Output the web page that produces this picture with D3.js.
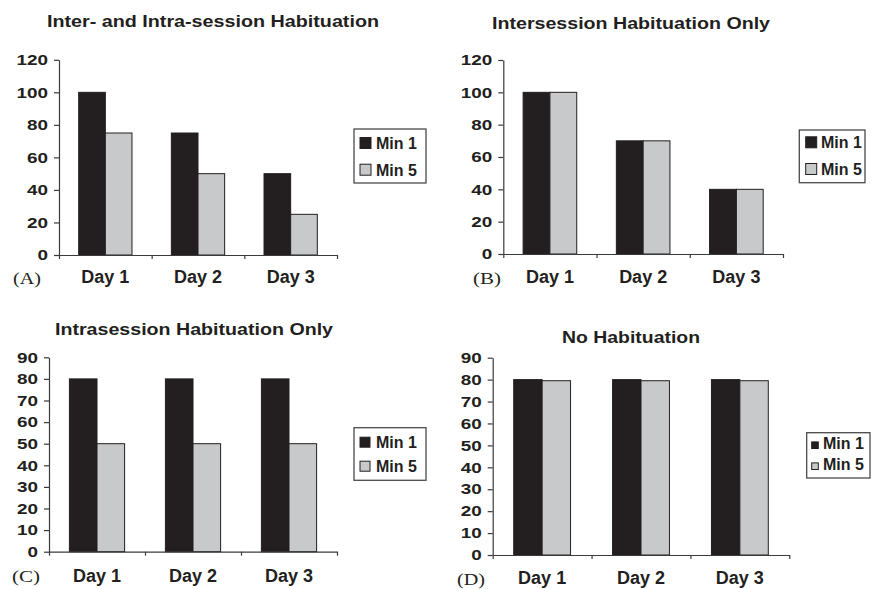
<!DOCTYPE html>
<html>
<head>
<meta charset="utf-8">
<script src="https://cdn.jsdelivr.net/npm/d3@7"></script>
<style>
  html, body { margin: 0; padding: 0; background: #ffffff; }
  svg { display: block; }
</style>
</head>
<body>
<svg id="chart" width="871" height="589"></svg>
<script>
// ---- data ----
const days = ["Day 1", "Day 2", "Day 3"];
const seriesNames = ["Min 1", "Min 5"];
const panelTitles = [
  "Inter- and Intra-session Habituation",
  "Intersession Habituation Only",
  "Intrasession Habituation Only",
  "No Habituation"
];
const panelLetters = ["(A)", "(B)", "(C)", "(D)"];

const min1A = [100, 75, 50];
const min5A = [75, 50, 25];
const min1B = [100, 70, 40];
const min5B = [100, 70, 40];
const min1C = [80, 80, 80];
const min5C = [50, 50, 50];
const min1D = [80, 80, 80];
const min5D = [79.5, 79.5, 79.5];

const yTicksTop = [0, 20, 40, 60, 80, 100, 120];
const yTicksBottom = [0, 10, 20, 30, 40, 50, 60, 70, 80, 90];

// ---- styling ----
const INK = "#231f20";
const GREY = "#c8c9cb";
const seriesFill = [INK, GREY];
const sans = "'Liberation Sans', Arial, Helvetica, sans-serif";
const serif = "'Liberation Serif', 'Times New Roman', serif";

// per-panel layout (pixel frame of each small chart)
const panels = [
  { min1: min1A, min5: min5A, ticks: yTicksTop, yMax: 120,
    left: 59, right: 337, top: 59.8, bottom: 255,
    title: { cx: 213, y: 27.3, len: 332 },
    legend: { x: 354, y: 129, w: 72, h: 54, sw: 11, sx: 360, tx: 376, rows: [149, 175.7] },
    letter: { x: 13, y: 284 }, dayY: 283.3 },
  { min1: min1B, min5: min5B, ticks: yTicksTop, yMax: 120,
    left: 503.3, right: 783, top: 60, bottom: 254,
    title: { cx: 631, y: 29, len: 278 },
    legend: { x: 799.3, y: 130, w: 65.7, h: 52.7, sw: 11, sx: 805.7, tx: 821, rows: [148.3, 175] },
    letter: { x: 473, y: 283.5 }, dayY: 282.7 },
  { min1: min1C, min5: min5C, ticks: yTicksBottom, yMax: 90,
    left: 49, right: 337, top: 357.3, bottom: 551.7,
    title: { cx: 194, y: 335, len: 278 },
    legend: { x: 354, y: 427.7, w: 72, h: 52.6, sw: 10, sx: 360, tx: 376, rows: [447.7, 471.7] },
    letter: { x: 12, y: 582 }, dayY: 582.3 },
  { min1: min1D, min5: min5D, ticks: yTicksBottom, yMax: 90,
    left: 492.7, right: 789.3, top: 357.7, bottom: 555,
    title: { cx: 631, y: 343.3, len: 138 },
    legend: { x: 806.7, y: 432.7, w: 63.3, h: 45.3, sw: 6.6, sx: 811.7, tx: 823, rows: [449, 470] },
    letter: { x: 457, y: 584.5 }, dayY: 584.3 }
];

const svg = d3.select("#chart");

panels.forEach((p, i) => {
  const g = svg.append("g");
  const values = [p.min1, p.min5];
  const rows = days.map((d, k) => ({ day: d, vals: values.map((s, j) => ({ name: seriesNames[j], v: s[k], j })) }));

  const y = d3.scaleLinear().domain([0, p.yMax]).range([p.bottom, p.top]);
  const xGroup = d3.scaleBand().domain(days).range([p.left, p.right])
    .paddingInner(0.425).paddingOuter(0.2125);
  const xSeries = d3.scaleBand().domain(seriesNames).range([0, xGroup.bandwidth()]);
  const xEdge = d3.scaleLinear().domain([0, days.length]).range([p.left, p.right]);

  // bars
  const groups = g.selectAll("g.day").data(rows).join("g")
    .attr("class", "day")
    .attr("transform", d => `translate(${xGroup(d.day)},0)`);
  groups.selectAll("rect").data(d => d.vals).join("rect")
    .attr("x", d => xSeries(d.name))
    .attr("y", d => y(d.v))
    .attr("width", xSeries.bandwidth())
    .attr("height", d => y(0) - y(d.v))
    .attr("fill", d => seriesFill[d.j])
    .attr("stroke", INK)
    .attr("stroke-width", 1);

  // y axis
  const yAxis = g.append("g")
    .attr("transform", `translate(${p.left},0)`)
    .call(d3.axisLeft(y).tickValues(p.ticks).tickFormat(d3.format("d"))
      .tickSize(5).tickSizeOuter(0).tickPadding(6));
  yAxis.select(".domain").attr("stroke", "#3a3a3a").attr("stroke-width", 1.2);
  yAxis.selectAll(".tick line").attr("stroke", "#3a3a3a").attr("stroke-width", 1.2);
  yAxis.selectAll(".tick text")
    .attr("fill", INK)
    .style("font-family", sans).style("font-weight", "bold").style("font-size", "14.8px")
    .attr("textLength", d => String(d).length * 10.5)
    .attr("lengthAdjust", "spacingAndGlyphs");

  // x axis with ticks between categories
  const xAxis = g.append("g")
    .attr("transform", `translate(0,${p.bottom})`)
    .call(d3.axisBottom(xEdge).tickValues(d3.range(days.length + 1))
      .tickFormat("").tickSize(4).tickSizeOuter(0));
  xAxis.select(".domain").attr("stroke", "#3a3a3a").attr("stroke-width", 1.2);
  xAxis.selectAll(".tick line").attr("stroke", "#3a3a3a").attr("stroke-width", 1.2);

  // category labels
  g.selectAll("text.day").data(days).join("text")
    .attr("class", "day")
    .attr("x", d => xGroup(d) + xGroup.bandwidth() / 2)
    .attr("y", p.dayY)
    .attr("text-anchor", "middle")
    .attr("fill", INK)
    .style("font-family", sans).style("font-weight", "bold").style("font-size", "18px")
    .text(d => d);

  // title
  g.append("text")
    .attr("x", p.title.cx).attr("y", p.title.y)
    .attr("text-anchor", "middle")
    .attr("fill", INK)
    .attr("textLength", p.title.len).attr("lengthAdjust", "spacingAndGlyphs")
    .style("font-family", sans).style("font-weight", "bold").style("font-size", "17px")
    .text(panelTitles[i]);

  // panel letter
  g.append("text")
    .attr("x", p.letter.x).attr("y", p.letter.y)
    .attr("fill", INK)
    .attr("textLength", 28).attr("lengthAdjust", "spacingAndGlyphs")
    .style("font-family", serif).style("font-size", "17px")
    .text(panelLetters[i]);

  // legend
  const L = p.legend;
  const lg = g.append("g");
  lg.append("rect")
    .attr("x", L.x).attr("y", L.y).attr("width", L.w).attr("height", L.h)
    .attr("fill", "#ffffff").attr("stroke", "#4a4a4a").attr("stroke-width", 1.3);
  seriesNames.forEach((name, j) => {
    lg.append("rect")
      .attr("x", L.sx).attr("y", L.rows[j] - L.sw - 0.5)
      .attr("width", L.sw).attr("height", L.sw)
      .attr("fill", seriesFill[j]).attr("stroke", INK).attr("stroke-width", 1);
    lg.append("text")
      .attr("x", L.tx).attr("y", L.rows[j])
      .attr("fill", INK)
      .style("font-family", sans).style("font-weight", "bold").style("font-size", "16px")
      .text(name);
  });
});
</script>
</body>
</html>
